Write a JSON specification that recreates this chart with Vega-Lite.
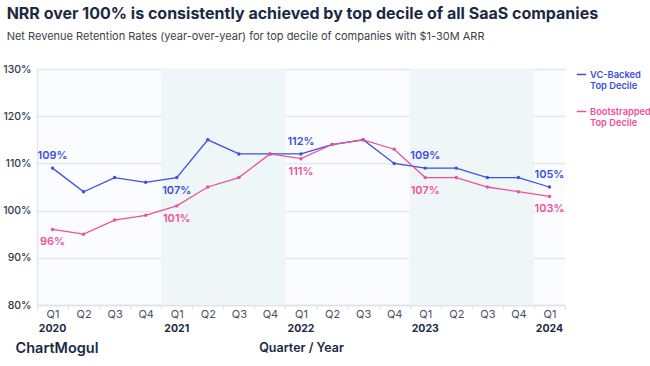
{
  "$schema": "https://vega.github.io/schema/vega-lite/v6.json",
  "width": 528,
  "height": 236,
  "autosize": "none",
  "padding": {"left": 37, "top": 69, "right": 85, "bottom": 61},
  "background": "white",
  "config": {
    "font": "Inter",
    "view": {"fill": "#fafcff", "stroke": null}
  },
  "title": {
    "text": "NRR over 100% is consistently achieved by top decile of all SaaS companies",
    "subtitle": "Net Revenue Retention Rates (year-over-year) for top decile of companies with $1-30M ARR",
    "anchor": "start",
    "frame": "bounds",
    "dx": 4,
    "fontSize": 16,
    "fontWeight": 700,
    "color": "#1b2a44",
    "subtitleFontSize": 11,
    "subtitleColor": "#3a3f47",
    "subtitlePadding": 9,
    "offset": 22
  },
  "datasets": {
    "bands": [
      {"period": "Q1 2021"}, {"period": "Q2 2021"}, {"period": "Q3 2021"}, {"period": "Q4 2021"},
      {"period": "Q1 2023"}, {"period": "Q2 2023"}, {"period": "Q3 2023"}, {"period": "Q4 2023"}
    ],
    "nrr": [
      {"period": "Q1 2020", "series": "VC-Backed Top Decile", "value": 109, "label": "109%", "pos": "above"},
      {"period": "Q2 2020", "series": "VC-Backed Top Decile", "value": 104, "label": "", "pos": ""},
      {"period": "Q3 2020", "series": "VC-Backed Top Decile", "value": 107, "label": "", "pos": ""},
      {"period": "Q4 2020", "series": "VC-Backed Top Decile", "value": 106, "label": "", "pos": ""},
      {"period": "Q1 2021", "series": "VC-Backed Top Decile", "value": 107, "label": "107%", "pos": "below"},
      {"period": "Q2 2021", "series": "VC-Backed Top Decile", "value": 115, "label": "", "pos": ""},
      {"period": "Q3 2021", "series": "VC-Backed Top Decile", "value": 112, "label": "", "pos": ""},
      {"period": "Q4 2021", "series": "VC-Backed Top Decile", "value": 112, "label": "", "pos": ""},
      {"period": "Q1 2022", "series": "VC-Backed Top Decile", "value": 112, "label": "112%", "pos": "above"},
      {"period": "Q2 2022", "series": "VC-Backed Top Decile", "value": 114, "label": "", "pos": ""},
      {"period": "Q3 2022", "series": "VC-Backed Top Decile", "value": 115, "label": "", "pos": ""},
      {"period": "Q4 2022", "series": "VC-Backed Top Decile", "value": 110, "label": "", "pos": ""},
      {"period": "Q1 2023", "series": "VC-Backed Top Decile", "value": 109, "label": "109%", "pos": "above"},
      {"period": "Q2 2023", "series": "VC-Backed Top Decile", "value": 109, "label": "", "pos": ""},
      {"period": "Q3 2023", "series": "VC-Backed Top Decile", "value": 107, "label": "", "pos": ""},
      {"period": "Q4 2023", "series": "VC-Backed Top Decile", "value": 107, "label": "", "pos": ""},
      {"period": "Q1 2024", "series": "VC-Backed Top Decile", "value": 105, "label": "105%", "pos": "above"},
      {"period": "Q1 2020", "series": "Bootstrapped Top Decile", "value": 96, "label": "96%", "pos": "below"},
      {"period": "Q2 2020", "series": "Bootstrapped Top Decile", "value": 95, "label": "", "pos": ""},
      {"period": "Q3 2020", "series": "Bootstrapped Top Decile", "value": 98, "label": "", "pos": ""},
      {"period": "Q4 2020", "series": "Bootstrapped Top Decile", "value": 99, "label": "", "pos": ""},
      {"period": "Q1 2021", "series": "Bootstrapped Top Decile", "value": 101, "label": "101%", "pos": "below"},
      {"period": "Q2 2021", "series": "Bootstrapped Top Decile", "value": 105, "label": "", "pos": ""},
      {"period": "Q3 2021", "series": "Bootstrapped Top Decile", "value": 107, "label": "", "pos": ""},
      {"period": "Q4 2021", "series": "Bootstrapped Top Decile", "value": 112, "label": "", "pos": ""},
      {"period": "Q1 2022", "series": "Bootstrapped Top Decile", "value": 111, "label": "111%", "pos": "below"},
      {"period": "Q2 2022", "series": "Bootstrapped Top Decile", "value": 114, "label": "", "pos": ""},
      {"period": "Q3 2022", "series": "Bootstrapped Top Decile", "value": 115, "label": "", "pos": ""},
      {"period": "Q4 2022", "series": "Bootstrapped Top Decile", "value": 113, "label": "", "pos": ""},
      {"period": "Q1 2023", "series": "Bootstrapped Top Decile", "value": 107, "label": "107%", "pos": "below"},
      {"period": "Q2 2023", "series": "Bootstrapped Top Decile", "value": 107, "label": "", "pos": ""},
      {"period": "Q3 2023", "series": "Bootstrapped Top Decile", "value": 105, "label": "", "pos": ""},
      {"period": "Q4 2023", "series": "Bootstrapped Top Decile", "value": 104, "label": "", "pos": ""},
      {"period": "Q1 2024", "series": "Bootstrapped Top Decile", "value": 103, "label": "103%", "pos": "below"}
    ]
  },
  "layer": [
    {
      "data": {"name": "bands"},
      "mark": {"type": "bar", "color": "#eff6f8"},
      "encoding": {
        "x": {
          "field": "period", "type": "nominal",
          "scale": {"domain": ["Q1 2020","Q2 2020","Q3 2020","Q4 2020","Q1 2021","Q2 2021","Q3 2021","Q4 2021","Q1 2022","Q2 2022","Q3 2022","Q4 2022","Q1 2023","Q2 2023","Q3 2023","Q4 2023","Q1 2024"], "paddingInner": 0, "paddingOuter": 0},
          "axis": {
            "orient": "bottom",
            "labelExpr": "isValid(datum.value) ? split(datum.value, ' ')[0] : ''",
            "labelAngle": 0,
            "labelFontSize": 11,
            "labelColor": "#4a5160",
            "labelPadding": -1,
            "tickBand": "extent",
            "tickSize": 4,
            "tickColor": "#dfe2e7",
            "domainColor": "#dfe2e7",
            "domainWidth": 1.5,
            "title": "Quarter / Year",
            "titleFontSize": 12.5,
            "titleFontWeight": 600,
            "titleColor": "#1b2a44",
            "titlePadding": 22
          }
        }
      }
    },
    {
      "data": {"name": "nrr"},
      "mark": {"type": "line", "strokeWidth": 1.3, "point": {"size": 12, "filled": true}},
      "encoding": {
        "x": {
          "field": "period", "type": "nominal",
          "axis": {
            "orient": "bottom",
            "offset": 16,
            "labelExpr": "isValid(datum.value) && indexof(datum.value, 'Q1') == 0 ? split(datum.value, ' ')[1] : ''",
            "labelAngle": 0,
            "labelFontSize": 10.5,
            "labelFontWeight": 700,
            "labelColor": "#1b2a44",
            "ticks": false,
            "domain": false,
            "grid": false,
            "title": null
          }
        },
        "y": {
          "field": "value", "type": "quantitative",
          "scale": {"domain": [80, 130], "nice": false, "zero": false},
          "axis": {
            "values": [80, 90, 100, 110, 120, 130],
            "labelExpr": "datum.value + '%'",
            "labelFontSize": 10.5,
            "labelFontWeight": 500,
            "labelColor": "#2d3748",
            "labelPadding": 6,
            "ticks": false,
            "domainColor": "#e3e6ea",
            "domainWidth": 1.5,
            "gridColor": "#e6e8ec",
            "gridWidth": 1.5,
            "title": "ChartMogul",
            "titleAngle": 0,
            "titleAlign": "left",
            "titleBaseline": "middle",
            "titleX": -22,
            "titleY": 279,
            "titleFontSize": 14.5,
            "titleFontWeight": 600,
            "titleColor": "#1b2a44"
          }
        },
        "color": {
          "field": "series", "type": "nominal",
          "scale": {"domain": ["VC-Backed Top Decile", "Bootstrapped Top Decile"], "range": ["#3b50e0", "#f0509a"]},
          "legend": {
            "orient": "right",
            "offset": 11,
            "title": null,
            "symbolType": "stroke",
            "symbolSize": 90,
            "symbolStrokeWidth": 1.5,
            "labelOffset": 3,
            "labelFontSize": 9.3,
            "labelFontWeight": 600,
            "labelExpr": "split(datum.value, ' T')[0] == datum.value ? datum.value : [split(datum.value, ' T')[0], 'T' + split(datum.value, ' T')[1]]",
            "labelColor": {"expr": "indexof(datum.value, 'VC') == 0 ? '#3b50e0' : '#f0509a'"},
            "rowPadding": 14
          }
        }
      }
    },
    {
      "data": {"name": "nrr"},
      "transform": [{"filter": "datum.pos == 'above'"}],
      "mark": {"type": "text", "dy": -12, "fontSize": 11, "fontWeight": 600},
      "encoding": {
        "x": {"field": "period", "type": "nominal", "axis": null},
        "y": {"field": "value", "type": "quantitative"},
        "text": {"field": "label"},
        "color": {"field": "series", "type": "nominal", "legend": null}
      }
    },
    {
      "data": {"name": "nrr"},
      "transform": [{"filter": "datum.pos == 'below'"}],
      "mark": {"type": "text", "dy": 13, "fontSize": 11, "fontWeight": 600},
      "encoding": {
        "x": {"field": "period", "type": "nominal", "axis": null},
        "y": {"field": "value", "type": "quantitative"},
        "text": {"field": "label"},
        "color": {"field": "series", "type": "nominal", "legend": null}
      }
    }
  ],
  "resolve": {"axis": {"x": "independent"}}
}
